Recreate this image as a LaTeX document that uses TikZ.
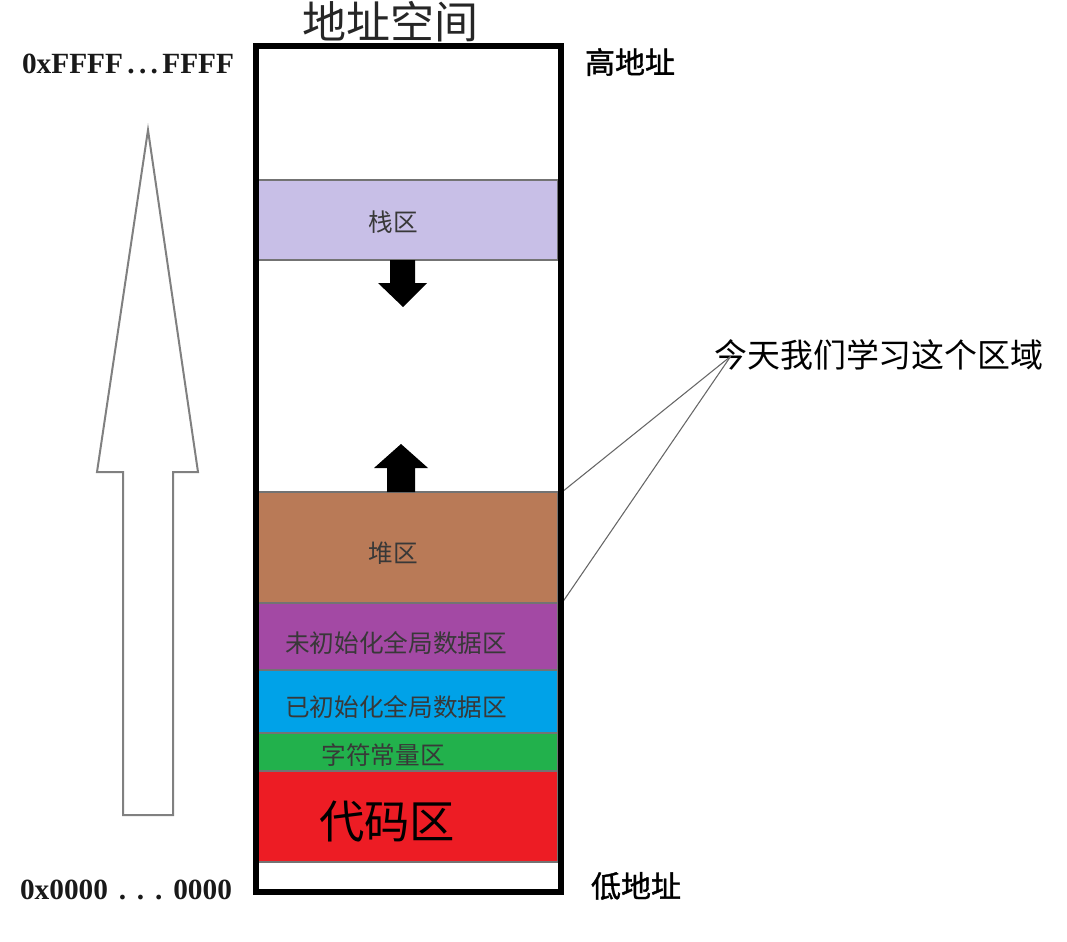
\documentclass[tikz,border=0pt]{standalone}
\usepackage{fontspec}
\setmainfont{Liberation Serif}
\newfontfamily\cjk{Noto Sans CJK SC}
\newfontfamily\cjkbold[FakeBold=1.2]{Noto Sans CJK SC}
\definecolor{stackcol}{HTML}{C8BFE7}
\definecolor{heapcol}{HTML}{B97A57}
\definecolor{bsscol}{HTML}{A349A4}
\definecolor{datacol}{HTML}{00A2E8}
\definecolor{rodatacol}{HTML}{22B14C}
\definecolor{codecol}{HTML}{ED1C24}
\def\bands{{180/260/stackcol/stack}, {492/603/heapcol/heap}, {603/670/bsscol/bss}, {670/733/datacol/data}, {733/771/rodatacol/rodata}, {771/862/codecol/code}}
\def\zones{{(393,222)/stack-label/栈区}, {(393,553)/heap-label/堆区}, {(396,643)/bss-label/未初始化全局数据区}, {(396,707)/data-label/已初始化全局数据区}, {(383,755)/rodata-label/字符常量区}}
\newcommand\hexaddr[2]{\makebox[159pt][s]{#1\hfill.\hfill.\hfill.\hfill#2}}
\tikzstyle{band} = [draw=black!55, line width=0.8pt]
\tikzstyle{memory box} = [draw, line width=4.5pt]
\tikzstyle{zone label} = [font=\cjk\fontsize{18.5pt}{20pt}\selectfont, text=black!78, inner sep=0pt]
\tikzstyle{big zone label} = [font=\cjk\fontsize{34pt}{36pt}\selectfont, inner sep=0pt]
\tikzstyle{address} = [font=\bfseries\fontsize{22pt}{24pt}\selectfont, text=black!90, inner sep=0pt]
\tikzstyle{side label} = [font=\cjkbold\fontsize{22.5pt}{24pt}\selectfont, inner sep=0pt]
\tikzstyle{title} = [font=\cjk\fontsize{33pt}{35pt}\selectfont, text=black!85, inner sep=0pt]
\tikzstyle{hollow arrow} = [draw=black!50, line width=1.5pt, line join=miter]
\tikzstyle{callout line} = [draw=black!60, line width=0.8pt]

\begin{document}
\begin{tikzpicture}[x=0.75pt, y=-0.75pt]
  \useasboundingbox (0,0) rectangle (1067,942);

  % The coloured zones of the address space
  \foreach \top/\bot/\col/\name in \bands {
    \path[band, fill=\col] (258,\top) rectangle (558,\bot);
    \coordinate (\name-ne) at (562,\top);
    \coordinate (\name-se) at (562,\bot);
  }

  \foreach \pos/\name/\txt in \zones
    \node[zone label] (\name) at \pos {\txt};
  \node[big zone label] (code-label) at (387,822) {代码区};

  % Stack grows down, heap grows up
  \fill (390,260) -- (390,283) -- (378,283) -- (403,307) -- (427,283) -- (415,283) -- (415,260) -- cycle;
  \fill (387,492) -- (387,468) -- (374,468) -- (401,444) -- (428,468) -- (415,468) -- (415,492) -- cycle;

  % The callout to the stack and heap
  \node[anchor=west, inner sep=0pt, font=\cjk\fontsize{24.7pt}{26pt}\selectfont] (today) at (714,355) {今天我们学习这个区域};
  \foreach \corner in {heap-ne, heap-se}
    \path[callout line] ([xshift=12.5pt, yshift=-1pt]today.west) -- (\corner);

  % The frame and its labels
  \draw[memory box] (255.5,46) rectangle (560.5,891.5);
  \node[title] (title) at (390,22) {地址空间};
  \node[address] (high-addr) at (128,64) {\hexaddr{0xFFFF}{FFFF}};
  \node[address] (low-addr) at (126,890) {\hexaddr{0x0000}{0000}};
  \node[side label] (high) at (630,62) {高地址};
  \node[side label] (low) at (636,886) {低地址};

  % Addresses increase upwards
  \path[hollow arrow] (123,815) -- (123,472) -- (97,472) -- (148,130) -- (198,472) -- (173,472) -- (173,815) -- cycle;

\end{tikzpicture}
\end{document}
